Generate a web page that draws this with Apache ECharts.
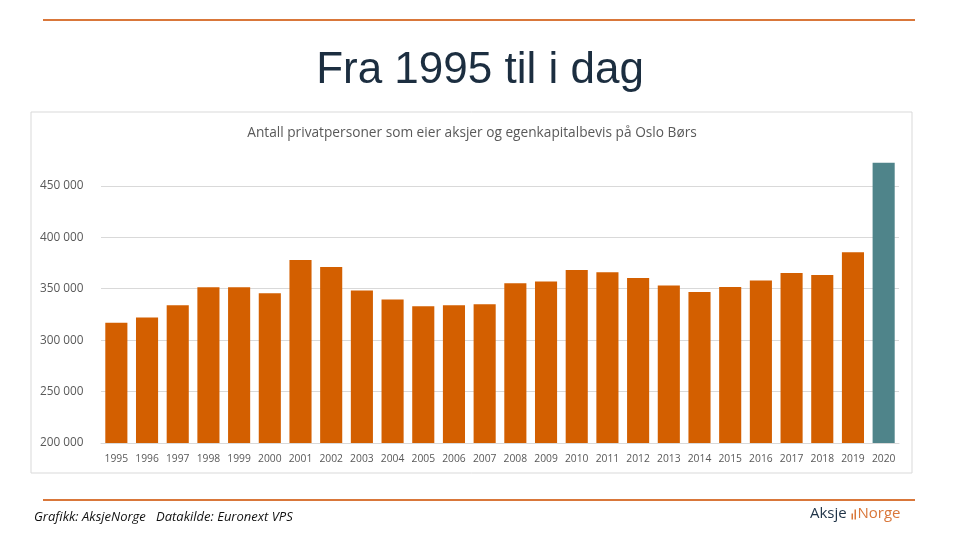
<!DOCTYPE html>
<html>
<head>
<meta charset="utf-8">
<script src="https://cdn.jsdelivr.net/npm/echarts@6/dist/echarts.min.js"></script>
<style>html,body{margin:0;padding:0;background:#fff;}#c{width:960px;height:540px;}</style>
</head>
<body>
<div id="c"></div>
<script>
const years = ['1995','1996','1997','1998','1999','2000','2001','2002','2003','2004','2005','2006','2007','2008','2009','2010','2011','2012','2013','2014','2015','2016','2017','2018','2019','2020'];
const investors = [317000,322000,334000,351500,351500,345700,378000,371000,348300,339600,333000,334000,335000,355200,357100,368100,365900,360300,353200,346700,351600,358100,365200,363300,385400,472400];
const yTicks = {min:200000, max:480000, interval:50000};
const orange = '#d35f00';
const teal = '#4f848a';

const chart = echarts.init(document.getElementById('c'));
chart.setOption({
  animation:false,
  title:[
    {text:'Fra 1995 til i dag', left:'center', top:44,
     textStyle:{fontFamily:'Liberation Sans', fontSize:44, fontWeight:'normal', color:'#1c2e40'}},
    {text:'Antall privatpersoner som eier aksjer og egenkapitalbevis på Oslo Børs', left:467, textAlign:'center', top:121,
     textStyle:{fontFamily:'Open Sans', fontSize:13.7, fontWeight:'normal', color:'#595959'}}
  ],
  grid:{left:101, right:61, top:155, bottom:97},
  xAxis:{type:'category', data:years,
    axisLine:{lineStyle:{color:'#d9d9d9'}}, axisTick:{show:false},
    axisLabel:{color:'#595959', fontSize:10.3, fontFamily:'Open Sans', margin:11, interval:0}},
  yAxis:{type:'value', min:yTicks.min, max:yTicks.max, interval:yTicks.interval,
    axisLine:{show:false}, axisTick:{show:false},
    splitLine:{lineStyle:{color:'#d9d9d9'}, showMaxLine:false},
    axisLabel:{color:'#595959', fontSize:11.8, fontFamily:'Open Sans', margin:61, align:'left', showMaxLabel:false,
      formatter:v=> v>450000 ? '' : String(v).replace(/\B(?=(\d{3})+(?!\d))/g,' ')}},
  series:[{type:'bar', barCategoryGap:'28%',
    data:investors.map((v,i)=>({value:v, itemStyle:{color: i===investors.length-1?teal:orange}}))}],
  graphic:[
    {type:'line', shape:{x1:43,y1:20,x2:915,y2:20}, style:{stroke:'#d9773a', lineWidth:2}},
    {type:'rect', shape:{x:31,y:112,width:881,height:361}, style:{fill:'none', stroke:'#d9d9d9', lineWidth:1}, z:-1},
    {type:'line', shape:{x1:43,y1:500,x2:915,y2:500}, style:{stroke:'#d9773a', lineWidth:2}},
    {type:'text', x:34, y:517, style:{text:'Grafikk: AksjeNorge   Datakilde: Euronext VPS', font:'italic 13px "Open Sans"', fill:'#111', verticalAlign:'middle'}},
    {type:'text', x:810, y:514, style:{text:'Aksje', font:'500 15px "Open Sans"', fill:'#1f3347', verticalAlign:'middle'}},
    {type:'rect', shape:{x:851.5,y:513.5,width:1.5,height:6}, style:{fill:'#d9773a'}},
    {type:'rect', shape:{x:854.5,y:509.5,width:1.5,height:10}, style:{fill:'#d9773a'}},
    {type:'text', x:857.5, y:514, style:{text:'Norge', font:'500 15px "Open Sans"', fill:'#d9773a', verticalAlign:'middle'}}
  ]
});
</script>
</body>
</html>
